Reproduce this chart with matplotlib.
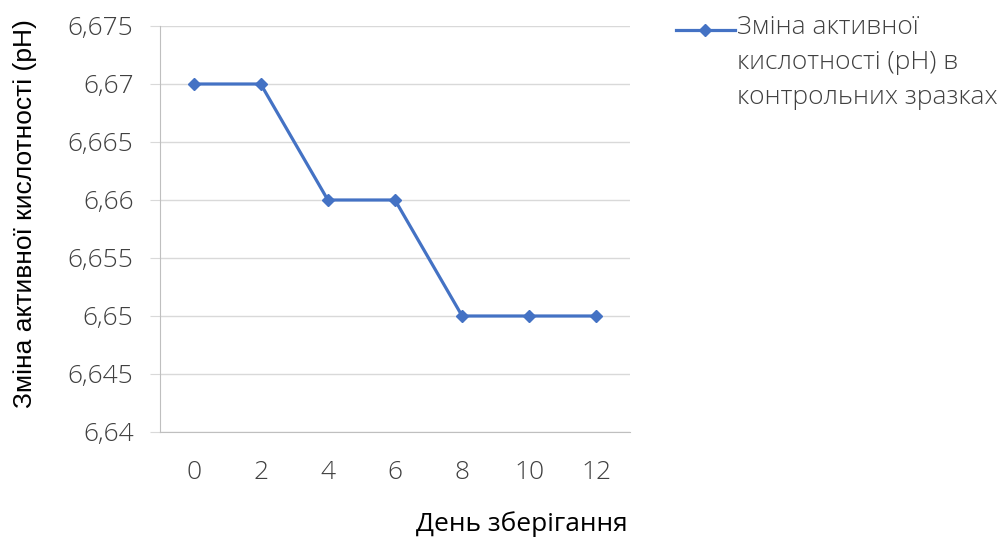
import matplotlib.pyplot as plt
from matplotlib.lines import Line2D
from matplotlib.ticker import FuncFormatter

plt.rcParams['font.family'] = ['Open Sans', 'DejaVu Sans']
plt.rcParams['font.weight'] = 'light'

days = ['0', '2', '4', '6', '8', '10', '12']
ph = [6.67, 6.67, 6.66, 6.66, 6.65, 6.65, 6.65]
yticks = [6.64, 6.645, 6.65, 6.655, 6.66, 6.665, 6.67, 6.675]
series_name = 'Зміна активної\nкислотності (pH) в\nконтрольних зразках'

W, H = 1002, 540
fig = plt.figure(figsize=(W / 100, H / 100), dpi=100)
ax = fig.add_axes([160 / W, 1 - 432 / H, 470 / W, 406 / H])

x = range(len(days))
ax.plot(x, ph, color='#4472C4', linewidth=2.3, marker='D', markersize=6)

ax.set_xlim(-0.5, len(days) - 0.5)
ax.set_ylim(6.64, 6.675)
ax.set_xticks(list(x))
ax.set_xticklabels(days)
ax.set_yticks(yticks)
ax.yaxis.set_major_formatter(FuncFormatter(lambda v, p: ('%g' % round(v, 3)).replace('.', ',')))
ax.grid(axis='y', color='#d9d9d9', linewidth=1)
ax.set_axisbelow(True)

for s in ['top', 'right']:
    ax.spines[s].set_visible(False)
ax.spines['left'].set_color('#bfbfbf')
ax.spines['bottom'].set_color('#bfbfbf')
ax.tick_params(axis='y', direction='out', length=7, color='#d9d9d9', labelsize=19,
               labelcolor='#404040', pad=12)
ax.tick_params(axis='x', length=0, labelsize=19, labelcolor='#404040', pad=20)

ax.set_ylabel('Зміна активної кислотності (pH)', fontsize=19, color='black',
              fontweight='normal', family=['Liberation Sans', 'DejaVu Sans'])
ax.yaxis.set_label_coords(-0.262, 0.537)
fig.text(628 / W, 1 - 540 / H + 0.005, 'День зберігання', fontsize=19,
         fontweight='normal', ha='right', va='bottom')

# legend drawn by hand so the marker sits on the first text line
ly = 1 - 30 / H
fig.add_artist(Line2D([676 / W, 735 / W], [ly, ly], transform=fig.transFigure,
                      color='#4472C4', linewidth=2.3))
fig.add_artist(Line2D([705 / W], [ly], transform=fig.transFigure, color='#4472C4',
                      marker='D', markersize=6))
fig.text(737 / W, 1 - 15 / H, series_name, fontsize=19, color='#404040', ha='left',
         va='top', linespacing=1.52)

fig.savefig('out.png', dpi=100, facecolor='white')
